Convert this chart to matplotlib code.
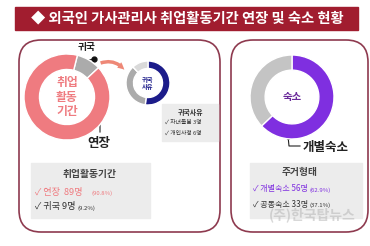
import matplotlib.pyplot as plt
from matplotlib.patches import FancyBboxPatch, FancyArrowPatch, Rectangle

plt.rcParams['font.family'] = ['Noto Sans CJK KR', 'DejaVu Sans']

title = "◆ 외국인 가사관리사 취업활동기간 연장 및 숙소 현황"

# 취업활동기간
stay_labels = ['귀국', '연장']
stay_counts = [9, 89]
stay_pcts = [9.2, 90.8]

# 귀국사유 (visual share of the small ring)
reason_labels = ['자녀돌봄', '개인사정']
reason_counts = [3, 6]
reason_ring = [52, 36, 12]

# 주거형태
house_labels = ['개별숙소', '공동숙소']
house_counts = [56, 33]
house_pcts = [62.9, 37.1]

W, H = 370, 246
fig = plt.figure(figsize=(W / 100, H / 100), dpi=100)
fig.patch.set_facecolor('white')
ax = fig.add_axes([0, 0, 1, 1])
ax.set_xlim(0, W)
ax.set_ylim(H, 0)
ax.axis('off')

maroon = '#8e3a4f'
pink = '#ef7b80'
gray = '#ababab'
navy = '#1c1c8a'
purple = '#7f2fe0'
dark = '#333333'


def sub_axes(cx, cy, r):
    return fig.add_axes([(cx - r) / W, 1 - (cy + r) / H, 2 * r / W, 2 * r / H])


# title banner
ax.add_patch(Rectangle((15, 7), 343, 23, color='#a11d2f', zorder=1))
ax.text(187, 18.5, title, color='white', fontsize=10.3, fontweight='bold',
        ha='center', va='center', zorder=2)

# panels
ax.add_patch(FancyBboxPatch((19, 40), 201, 192, boxstyle='round,pad=0,rounding_size=22',
                            fc='white', ec=maroon, lw=1.2))
ax.add_patch(FancyBboxPatch((231, 40), 137, 192, boxstyle='round,pad=0,rounding_size=22',
                            fc='white', ec=maroon, lw=1.2))

# big donut
a1 = sub_axes(67, 97, 43)
a1.pie(stay_pcts, colors=[gray, pink], startangle=76, counterclock=False,
       wedgeprops=dict(width=0.36, edgecolor='white', linewidth=1))
a1.set_xlim(-1, 1); a1.set_ylim(-1, 1)
ax.text(67, 97, '취업\n활동\n기간', color=pink, fontsize=8.5, fontweight='bold',
        ha='center', va='center', linespacing=1.15)
ax.plot([94, 89, 86], [59, 60, 66], color='#222', lw=0.8)
ax.plot(94, 59, 'o', color='#111', ms=3.5)
ax.text(87, 47, stay_labels[0], fontsize=7, fontweight='bold', ha='center', va='center', color='#222')
ax.plot(97, 119, 'o', color='#111', ms=3.5)
ax.plot([97, 100, 100], [119, 125, 132], color='#222', lw=0.8)
ax.text(99, 143, stay_labels[1], fontsize=9, fontweight='bold', ha='center', va='center', color='#222')

# arrow
ax.add_patch(FancyArrowPatch((98, 64), (126, 72), connectionstyle='arc3,rad=-0.4',
                             arrowstyle='simple,head_width=5,head_length=5,tail_width=2.5',
                             color='#ee8877', lw=0))

# small donut
a2 = sub_axes(148, 83, 22)
a2.pie(reason_ring, colors=[navy, gray, '#d9d9d9'], startangle=90, counterclock=False,
       wedgeprops=dict(width=0.34, edgecolor='white', linewidth=1))
a2.set_xlim(-1, 1); a2.set_ylim(-1, 1)
ax.text(148, 83, '귀국\n사유', color=navy, fontsize=4.5, fontweight='bold',
        ha='center', va='center', linespacing=1.1)

# 귀국사유 box
ax.add_patch(Rectangle((162, 104), 56, 37, color='#ececec', zorder=1))
ax.text(191, 112, '귀국사유', fontsize=5, fontweight='bold', ha='center', va='center', color='#333')
ax.text(165, 122.5, f'✓ {reason_labels[0]} {reason_counts[0]}명', fontsize=4.2, ha='left', va='center', color='#333')
ax.text(165, 133, f'✓ {reason_labels[1]} {reason_counts[1]}명', fontsize=4.2, ha='left', va='center', color='#333')

# 취업활동기간 box
ax.add_patch(Rectangle((31, 163), 119, 55, color='#ececec', zorder=1))
ax.text(90, 174, '취업활동기간', fontsize=7, fontweight='bold', ha='center', va='center', color='#444')
ax.text(35, 192, f'✓ {stay_labels[1]}  {stay_counts[1]}명', fontsize=6.6, ha='left', va='center', color=pink)
ax.text(91, 193, f'({stay_pcts[1]}%)', fontsize=4.3, ha='left', va='center', color=pink)
ax.text(35, 207, f'✓ {stay_labels[0]} {stay_counts[0]}명', fontsize=6.6, ha='left', va='center', color=dark)
ax.text(77, 208, f'({stay_pcts[0]}%)', fontsize=4.3, ha='left', va='center', color=dark)

# right donut
a3 = sub_axes(292, 97, 42)
a3.pie(house_pcts, colors=[purple, '#c4c4c4'], startangle=90, counterclock=False,
       wedgeprops=dict(width=0.36, edgecolor='white', linewidth=1))
a3.set_xlim(-1, 1); a3.set_ylim(-1, 1)
ax.text(292, 97, '숙소', color='#6a2a9a', fontsize=7.5, fontweight='bold', ha='center', va='center')
ax.plot(288, 136, 'o', color='#111', ms=3.5)
ax.plot([288, 289, 300], [136, 146, 146], color='#222', lw=0.8)
ax.text(303, 147, house_labels[0], fontsize=9, fontweight='bold', ha='left', va='center', color='#222')

# 주거형태 box
ax.add_patch(Rectangle((250, 163), 112, 55, color='#ececec', zorder=1))
ax.text(300, 172, '주거형태', fontsize=7, fontweight='bold', ha='center', va='center', color='#444')
ax.text(253, 189, f'✓ {house_labels[0]} {house_counts[0]}명', fontsize=5.8, ha='left', va='center', color=purple)
ax.text(310, 190, f'({house_pcts[0]}%)', fontsize=4.3, ha='left', va='center', color=purple)
ax.text(253, 204, f'✓ {house_labels[1]} {house_counts[1]}명', fontsize=5.8, ha='left', va='center', color=dark)
ax.text(310, 205, f'({house_pcts[1]}%)', fontsize=4.3, ha='left', va='center', color=dark)

# watermark
ax.text(312, 215, '(주)한국탑뉴스', fontsize=10, fontweight='bold', ha='center', va='center',
        color='#aaaaaa', alpha=0.45)

fig.savefig('out.png', dpi=100)
